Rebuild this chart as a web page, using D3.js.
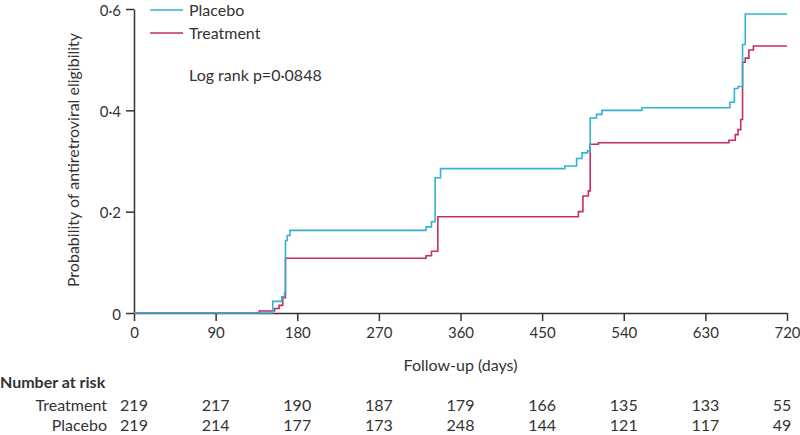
<!DOCTYPE html>
<meta charset="utf-8">
<style>
  body { margin: 0; background: #fff; }
  svg { font-family: Lato, "Open Sans", sans-serif; }
  .axis path, .axis line { stroke: #333; stroke-width: 1.5px; }
  .axis text { font-size: 15px; fill: #333; }
  .line { fill: none; stroke-width: 1.6px; }
  .lbl { font-size: 16px; fill: #333; }
</style>
<svg width="800" height="435"></svg>
<script src="https://cdn.jsdelivr.net/npm/d3@7"></script>
<script>

  // Kaplan-Meier style step points [day, probability]
  var placebo = [
    [0, 0], [153, 0.023], [163, 0.032], [166, 0.04], [167, 0.143], [169, 0.153], [172, 0.163],
    [322, 0.17], [328, 0.18], [332, 0.267], [338, 0.285],
    [475, 0.29], [488, 0.305], [494, 0.316], [500, 0.32], [503, 0.385], [510, 0.392], [516, 0.40],
    [560, 0.405], [657, 0.416], [662, 0.443], [666, 0.447], [671, 0.53], [674, 0.59], [720, 0.59]
  ];
  var treatment = [
    [0, 0], [138, 0.004], [155, 0.009], [160, 0.015], [164, 0.03], [167, 0.108],
    [322, 0.113], [328, 0.122], [335, 0.19],
    [490, 0.20], [495, 0.231], [501, 0.241], [503, 0.333], [512, 0.336],
    [656, 0.341], [663, 0.352], [666, 0.362], [669, 0.382], [671, 0.495], [674, 0.503],
    [678, 0.519], [683, 0.527], [720, 0.527]
  ];

  var xTicks = [0, 90, 180, 270, 360, 450, 540, 630, 720];
  var yTicks = [0, 0.2, 0.4, 0.6];

  var riskGroups = ["Treatment", "Placebo"];
  var riskTreatment = [219, 217, 190, 187, 179, 166, 135, 133, 55];
  var riskPlacebo = [219, 214, 177, 173, 248, 144, 121, 117, 49];

  var colors = { Placebo: "#33b3d2", Treatment: "#c62d60" };

  var svg = d3.select("svg"),
    margin = { top: 9, right: 13, bottom: 122, left: 134 },
    width = svg.attr("width") - margin.left - margin.right,
    height = svg.attr("height") - margin.top - margin.bottom,
    g = svg.append("g").attr("transform", "translate(" + margin.left + "," + margin.top + ")");

  var x = d3.scaleLinear().domain([0, 720]).range([0, width]);
  var y = d3.scaleLinear().domain([0, 0.6]).range([height, 0]);

  // Lancet style decimal point
  var fmt = function (d) { return d === 0 ? "0" : d3.format(".1f")(d).replace(".", "\u00b7"); };

  // axes
  g.append("g")
    .attr("class", "axis")
    .attr("transform", "translate(0," + height + ")")
    .call(d3.axisBottom(x).tickValues(xTicks).tickSize(8).tickSizeOuter(0).tickPadding(6));

  g.append("g")
    .attr("class", "axis axis--y")
    .call(d3.axisLeft(y).tickValues(yTicks).tickFormat(fmt).tickSize(8).tickSizeOuter(0).tickPadding(5));

  g.selectAll(".axis text").attr("font-family", "Lato, sans-serif");
  g.selectAll(".axis--y text").attr("dy", "0.4em");

  // lines
  var line = d3.line()
    .curve(d3.curveStepAfter)
    .x(function (d) { return x(d[0]); })
    .y(function (d) { return y(d[1]); });

  g.append("path").attr("class", "line").attr("d", line(treatment)).style("stroke", colors.Treatment);
  g.append("path").attr("class", "line").attr("d", line(placebo)).style("stroke", colors.Placebo);

  // legend
  var legend = g.selectAll(".legend")
    .data(["Placebo", "Treatment"])
    .enter().append("g")
    .attr("transform", function (d, i) { return "translate(16," + (1 + i * 23) + ")"; });
  legend.append("line").attr("x1", 0).attr("x2", 33)
    .style("stroke", function (d) { return colors[d]; }).style("stroke-width", 1.6);
  legend.append("text").attr("class", "lbl").attr("x", 39).attr("dy", "0.35em").text(function (d) { return d; });

  g.append("text").attr("class", "lbl").attr("x", 55).attr("y", 66).attr("dy", "0.35em")
    .text("Log rank p=0\u00b70848");

  // axis titles
  g.append("text").attr("class", "lbl")
    .attr("transform", "translate(-61," + (height / 2 - 1) + ") rotate(-90)")
    .attr("text-anchor", "middle").attr("dy", "0.35em")
    .text("Probability of antiretroviral eligibility");

  g.append("text").attr("class", "lbl")
    .attr("x", width / 2).attr("y", height + 52).attr("dy", "0.35em")
    .attr("text-anchor", "middle")
    .text("Follow-up (days)");

  // number at risk table
  svg.append("text").attr("class", "lbl").attr("x", 0).attr("y", 382).attr("dy", "0.35em")
    .style("font-weight", "bold").text("Number at risk");

  var rows = [riskTreatment, riskPlacebo];
  rows.forEach(function (vals, r) {
    var yy = 405 + r * 20;
    svg.append("text").attr("class", "lbl").attr("x", 107).attr("y", yy).attr("dy", "0.35em")
      .attr("text-anchor", "end").text(riskGroups[r]);
    svg.selectAll(".risk" + r)
      .data(vals)
      .enter().append("text")
      .attr("class", "lbl")
      .attr("x", function (d, i) { return margin.left + x(xTicks[i]) + (i === vals.length - 1 ? -5 : 0); })
      .attr("y", yy).attr("dy", "0.35em")
      .attr("text-anchor", "middle")
      .text(function (d) { return d; });
  });

</script>
